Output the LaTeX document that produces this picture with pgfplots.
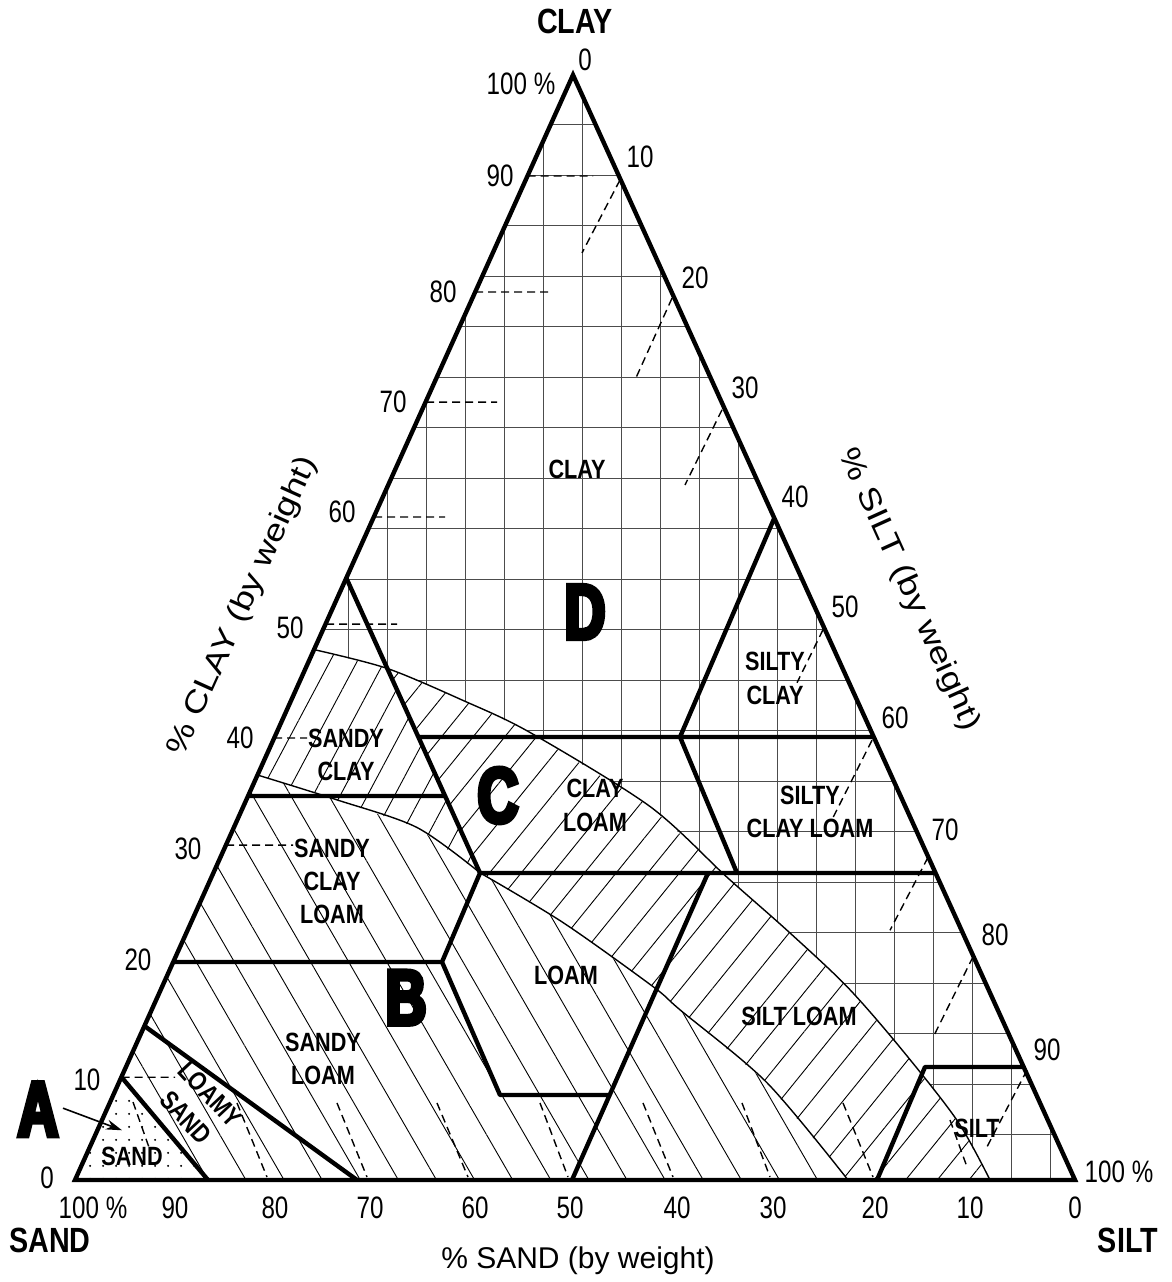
\documentclass[border=0pt]{standalone}
\usepackage{fontspec}
\setmainfont{Liberation Sans}
\newfontfamily\cond{Liberation Sans}[FakeStretch=0.78]
\newfontfamily\condb{Liberation Sans}[UprightFont=* Bold, FakeStretch=0.82]
\newfontfamily\heavy{Liberation Sans}[UprightFont=* Bold, FakeStretch=0.72, FakeBold=6]
\usepackage{pgfplots}
\pgfplotsset{compat=1.18}
\usetikzlibrary{patterns.meta, arrows.meta}

\newcommand\numf{\cond\fontsize{15.5pt}{17pt}\selectfont}
\newcommand\clsf{\condb\fontsize{13.2pt}{16.6pt}\selectfont}
\newcommand\cornf{\condb\fontsize{17.5pt}{19pt}\selectfont}
\newcommand\bigf{\heavy\fontsize{39pt}{40pt}\selectfont}
\newcommand\titf{\fontsize{15pt}{17pt}\selectfont}

\begin{document}
\begin{tikzpicture}
\begin{axis}[
  width=500pt, height=552.5pt, scale only axis,
  xmin=0, xmax=100, ymin=0, ymax=100,
  hide axis, clip=false,
  unbounded coords=jump,
]
% square grid of the clay part (D)
\addplot[black!70, line width=0.5pt] coordinates {
  (27.3,0) (27.3,54.82) (nan,nan) (31.2,0) (31.2,62.65) (nan,nan)
  (35.1,0) (35.1,70.48) (nan,nan) (39.0,0) (39.0,78.31) (nan,nan)
  (42.9,0) (42.9,86.14) (nan,nan) (46.8,0) (46.8,93.98) (nan,nan)
  (50.7,0) (50.7,98.21) (nan,nan) (54.6,0) (54.6,90.44) (nan,nan)
  (58.5,0) (58.5,82.67) (nan,nan) (62.4,0) (62.4,74.90) (nan,nan)
  (66.3,0) (66.3,67.13) (nan,nan) (70.2,0) (70.2,59.36) (nan,nan)
  (74.1,0) (74.1,51.59) (nan,nan) (78.0,0) (78.0,43.82) (nan,nan)
  (81.9,0) (81.9,36.06) (nan,nan) (85.8,0) (85.8,28.29) (nan,nan)
  (89.7,0) (89.7,20.52) (nan,nan) (93.6,0) (93.6,12.75) (nan,nan)
  (97.5,0) (97.5,4.98) (nan,nan)
  (47.55,95.48) (52.07,95.48) (nan,nan) (45.27,90.91) (54.36,90.91) (nan,nan)
  (43.00,86.34) (56.66,86.34) (nan,nan) (40.72,81.77) (58.95,81.77) (nan,nan)
  (38.45,77.20) (61.25,77.20) (nan,nan) (36.17,72.63) (63.54,72.63) (nan,nan)
  (33.89,68.06) (65.83,68.06) (nan,nan) (31.62,63.49) (68.13,63.49) (nan,nan)
  (29.34,58.92) (70.42,58.92) (nan,nan) (27.07,54.35) (72.72,54.35) (nan,nan)
  (24.79,49.78) (75.01,49.78) (nan,nan) (22.51,45.21) (77.30,45.21) (nan,nan)
  (20.24,40.64) (79.60,40.64) (nan,nan) (17.96,36.07) (81.89,36.07) (nan,nan)
  (15.69,31.50) (84.19,31.50) (nan,nan) (13.41,26.93) (86.48,26.93) (nan,nan)
  (11.14,22.36) (88.78,22.36) (nan,nan) (8.86,17.79) (91.07,17.79) (nan,nan)
  (6.58,13.22) (93.36,13.22) (nan,nan) (4.31,8.65) (95.66,8.65) (nan,nan)
  (2.03,4.08) (97.95,4.08)
};
% everything below the upper curve is hatched, not gridded
\addplot[draw=none, fill=white] coordinates {
  (0,0) (91.5,0) (88.2,5.4) (82.5,12.0) (77.2,17.5) (71.2,22.6) (65.2,27.4)
  (57.5,33.8) (45.5,40.5) (38.8,43.4) (31.2,46.3) (23.9,48.0)};
% band B
\addplot[draw=none, pattern={Lines[angle=-60, distance=16.5pt, line width=0.45pt]}]
  coordinates {(0,0) (77.3,0) (69.2,8.8) (60.5,15.4) (57.8,17.5) (48.8,23.3)
  (40.5,27.8) (34.2,31.9) (26.2,34.4) (18.25,36.65)};
% band C, left of the sandy clay line and right of it
\addplot[draw=none, pattern={Lines[angle=62, distance=12pt, line width=0.45pt]}]
  coordinates {(18.25,36.65) (23.9,48.0) (31.2,46.3) (40.5,27.8) (34.2,31.9) (26.2,34.4)};
\addplot[draw=none, pattern={Lines[angle=51, distance=12.3pt, line width=0.45pt]}]
  coordinates {(40.5,27.8) (31.2,46.3) (38.8,43.4) (45.5,40.5) (57.5,33.8)
  (65.2,27.4) (71.2,22.6) (77.2,17.5) (82.5,12.0) (88.2,5.4) (91.5,0)
  (77.3,0) (69.2,8.8) (60.5,15.4) (57.8,17.5) (48.8,23.3)};
% sand (A)
\addplot[draw=none, fill=white] coordinates {(0,0) (13.3,0) (4.64,9.32)};
\addplot[draw=none, pattern={Dots[distance=6.5pt, radius=0.6pt]}]
  coordinates {(0,0) (13.3,0) (4.64,9.32)};

% band borders
\addplot[smooth, line width=0.7pt] coordinates {
  (23.9,48.0) (31.2,46.3) (38.8,43.4) (45.5,40.5) (57.5,33.8) (65.2,27.4)
  (71.2,22.6) (77.2,17.5) (82.5,12.0) (88.2,5.4) (91.5,0)};
\addplot[smooth, line width=0.7pt] coordinates {
  (18.25,36.65) (26.2,34.4) (34.2,31.9) (40.5,27.8)};
\addplot[smooth, line width=0.7pt] coordinates {
  (40.5,27.8) (48.8,23.3) (57.8,17.5) (60.5,15.4) (69.2,8.8) (77.3,0)};

% dashed lines
\addplot[line width=0.7pt, dash pattern=on 4pt off 2.5pt] coordinates {
  (45.25,90.86) (51.8,90.86) (nan,nan) (40.0,80.36) (47.3,80.36) (nan,nan)
  (35.1,70.4) (42.2,70.4) (nan,nan) (29.9,60.0) (37.0,60.0) (nan,nan)
  (25.1,50.3) (32.2,50.3) (nan,nan) (19.9,40.0) (23.2,40.0) (nan,nan)
  (15.1,30.3) (21.8,30.3) (nan,nan) (4.65,9.3) (10.0,9.3) (nan,nan)
  (54.5,90.5) (50.7,83.9) (nan,nan) (59.7,79.8) (56.1,72.6) (nan,nan)
  (64.7,69.7) (61.0,62.9) (nan,nan) (74.8,49.8) (72.2,45.0) (nan,nan)
  (79.7,39.8) (75.8,32.8) (nan,nan) (85.3,29.2) (81.5,22.6) (nan,nan)
  (89.8,20.2) (85.8,12.9) (nan,nan) (95.2,9.95) (91.2,3.0) (nan,nan)
  (5.8,7.06) (7.5,2.7) (nan,nan) (16.2,6.97) (19.2,0.27) (nan,nan)
  (26.2,6.97) (29.2,0.27) (nan,nan) (36.2,6.97) (39.3,0.27) (nan,nan)
  (46.5,6.97) (49.3,0.27) (nan,nan) (56.8,6.97) (59.8,0.27) (nan,nan)
  (66.7,6.97) (69.5,0.27) (nan,nan) (76.8,6.97) (79.8,0.27) (nan,nan)
  (87.5,5.43) (89.2,1.18)
};

% class borders
\addplot[line width=2.2pt, line join=round] coordinates {
  (4.64,9.32) (13.3,0) (nan,nan)
  (6.94,13.94) (28.2,0) (nan,nan)
  (9.82,19.73) (36.7,19.73) (nan,nan)
  (40.5,27.78) (36.7,19.73) (42.5,7.69) (53.4,7.69) (nan,nan)
  (49.7,0) (63.3,27.78) (nan,nan)
  (40.5,27.78) (86.05,27.78) (nan,nan)
  (17.3,34.75) (37.0,34.75) (nan,nan)
  (27.13,54.48) (40.5,27.78) (nan,nan)
  (34.34,40.09) (79.87,40.09) (nan,nan)
  (60.5,40.09) (69.93,59.9) (nan,nan)
  (60.5,40.09) (66.2,27.78) (nan,nan)
  (80.2,0) (85.0,10.23) (94.86,10.23)
};
\addplot[line width=2.2pt, line join=miter] coordinates {(0,0) (49.8,100) (100,0)} -- cycle;

% arrow to the sand class
\addplot[line width=0.8pt, -{Stealth[length=8pt, width=5pt]}] coordinates {(-1.2,6.5) (4.7,4.5)};

% edge numbers
\node[font=\cornf] at (axis cs:50,104.8) {CLAY};
\node[font=\numf] at (axis cs:51,101.4) {0};
\node[font=\numf] at (axis cs:44.6,99.2) {100 \%};
\foreach \x/\y/\t in {42.5/90.9/90, 36.8/80.4/80, 31.8/70.4/70, 26.7/60.5/60,
    21.5/50.0/50, 16.5/40.0/40, 11.3/30.0/30, 6.3/19.9/20, 1.2/9.05/10, -2.8/0.2/0,
    56.5/92.6/10, 62.0/81.6/20, 67.0/71.7/30, 72.0/61.8/40, 77.0/51.9/50,
    82.0/41.8/60, 87.0/31.7/70, 92.0/22.2/80, 97.2/11.8/90,
    10/-2.53/90, 20/-2.53/80, 29.5/-2.53/70, 40/-2.53/60, 49.5/-2.53/50,
    60.2/-2.53/40, 69.8/-2.53/30, 80/-2.53/20, 89.5/-2.53/10, 100/-2.53/0}
  {\edef\tmp{\noexpand\node[font=\noexpand\numf] at (axis cs:\x,\y) {\t};}\tmp}
\node[font=\numf] at (axis cs:104.4,0.7) {100 \%};
\node[font=\numf] at (axis cs:1.8,-2.53) {100 \%};
\node[font=\cornf] at (axis cs:-2.5,-5.43) {SAND};
\node[font=\cornf] at (axis cs:105.3,-5.43) {SILT};
\node[font=\titf] at (axis cs:50.3,-7.3) {\% SAND (by weight)};
\node[font=\titf, rotate=65.7] at (axis cs:16.8,51.9) {\scalebox{1.22}[1]{\% CLAY (by weight)}};
\node[font=\titf, rotate=-65.7] at (axis cs:83.4,53.4) {\scalebox{1.22}[1]{\% SILT (by weight)}};

% class names
\node[font=\clsf] at (axis cs:50.2,64.3) {CLAY};
\node[font=\clsf, align=center] at (axis cs:70,45.4) {SILTY\\CLAY};
\node[font=\clsf, align=center] at (axis cs:27.1,38.5) {SANDY\\CLAY};
\node[font=\clsf, align=center] at (axis cs:52,33.9) {CLAY\\LOAM};
\node[font=\clsf, align=center] at (axis cs:73.5,33.3) {SILTY\\CLAY LOAM};
\node[font=\clsf, align=center] at (axis cs:25.7,27.0) {SANDY\\CLAY\\LOAM};
\node[font=\clsf] at (axis cs:49.1,18.55) {LOAM};
\node[font=\clsf] at (axis cs:72.4,14.8) {SILT LOAM};
\node[font=\clsf, align=center] at (axis cs:24.8,10.95) {SANDY\\LOAM};
\node[font=\clsf, align=center, rotate=-47] at (axis cs:12.3,6.7) {LOAMY\\SAND};
\node[font=\clsf] at (axis cs:5.7,2.17) {SAND};
\node[font=\clsf] at (axis cs:90.2,4.7) {SILT};

% band letters
\node[font=\bigf] at (axis cs:-3.7,6.4) {A};
\node[font=\bigf] at (axis cs:33.1,16.5) {B};
\node[font=\bigf] at (axis cs:42.3,34.8) {C};
\node[font=\bigf] at (axis cs:51,51.4) {D};
\end{axis}
\pgfresetboundingbox
\path ([shift={(-37.5pt,-51pt)}]current axis.south west)
  rectangle ([shift={(48pt,37.5pt)}]current axis.north east);
\end{tikzpicture}
\end{document}
